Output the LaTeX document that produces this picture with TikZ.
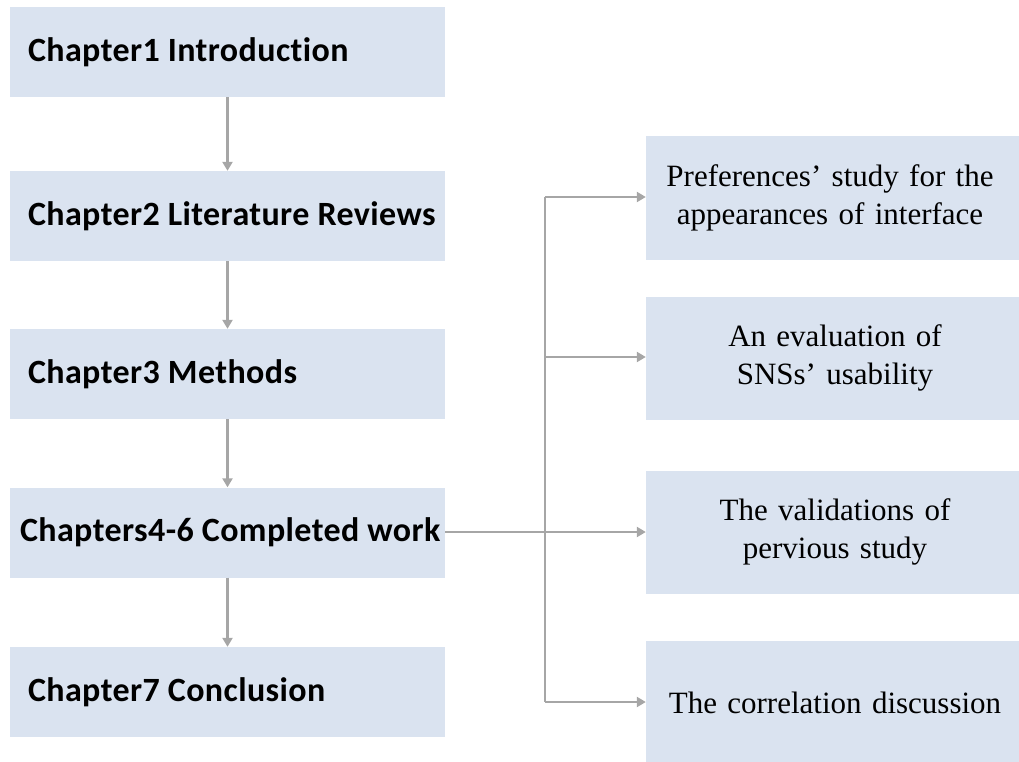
\documentclass[tikz,border=0pt]{standalone}
\usepackage{fontspec}
\setmainfont{Liberation Serif}
\newfontfamily\calfont[Ligatures={NoCommon},LetterSpace=1.2]{Carlito}
\usetikzlibrary{arrows.meta}
\definecolor{boxfill}{HTML}{DAE3F0}
\definecolor{linegray}{HTML}{A6A6A6}
\newcommand{\ltext}[2][399pt]{\makebox[#1][l]{#2}}
\begin{document}
\begin{tikzpicture}[x=1pt,y=-1pt,
  lbox/.style={fill=boxfill, minimum height=90pt, minimum width=435pt, inner sep=0pt,
    font=\calfont\bfseries\fontsize{34}{38}\selectfont},
  rbox/.style={fill=boxfill, minimum width=378pt, minimum height=123pt, inner sep=0pt,
    text width=370pt, align=center, font=\fontsize{31}{38}\selectfont},
  conn/.style={draw=linegray, line width=2.4pt, -{Triangle[length=9pt,width=10pt]}},
  plain/.style={draw=linegray, line width=2.4pt}]
\useasboundingbox (0,0) rectangle (1019,762);
\node[lbox] (c1) at (227.5,52) {\ltext{Chapter1 Introduction}};
\node[lbox] (c2) at (227.5,216) {\ltext{Chapter2 Literature Reviews}};
\node[lbox] (c3) at (227.5,374) {\ltext{Chapter3 Methods}};
\node[lbox] (c4) at (227.5,532.5) {\ltext[415pt]{Chapters4-6 Completed work}};
\node[lbox] (c5) at (227.5,692) {\ltext{Chapter7 Conclusion}};

\node[rbox] (r1) at (835,198) {\hspace*{-10pt}Preferences’ study for the\\\hspace*{-10pt}appearances of interface};
\node[rbox] (r2) at (835,358) {An evaluation of\\SNSs’ usability};
\node[rbox] (r3) at (835,532) {The validations of\\pervious study};
\node[rbox] (r4) at (835,702.5) {The correlation discussion};

\draw[conn] (c1) -- (c2);
\draw[conn] (c2) -- (c3);
\draw[conn] (c3) -- (c4);
\draw[conn] (c4) -- (c5);

\coordinate (jt) at (545,197);
\coordinate (jm) at (545,532);
\coordinate (jb) at (545,702);
\coordinate (j2) at (545,357);
\draw[plain] (c4.east |- jm) -- (jm);
\draw[plain] (jt) -- (jb);
\draw[conn] (jt) -- (jt -| r1.west);
\draw[conn] (j2) -- (j2 -| r2.west);
\draw[conn] (jm) -- (jm -| r3.west);
\draw[conn] (jb) -- (jb -| r4.west);
\end{tikzpicture}
\end{document}
